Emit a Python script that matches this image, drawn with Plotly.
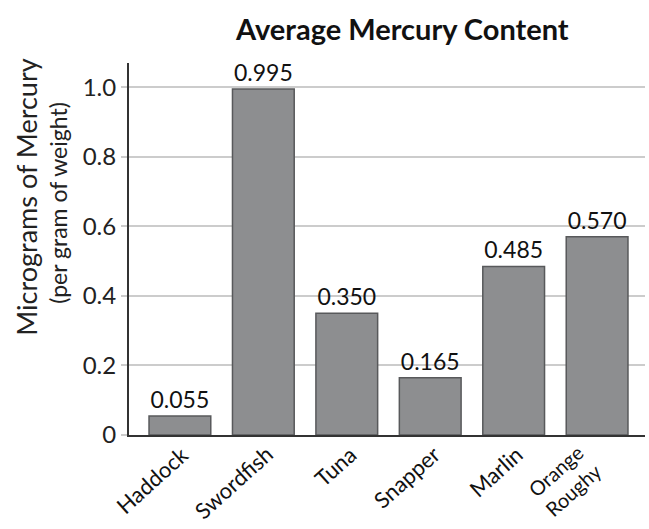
import plotly.graph_objects as go

fish = ["Haddock", "Swordfish", "Tuna", "Snapper", "Marlin", "Orange<br>Roughy"]
mercury = [0.055, 0.995, 0.350, 0.165, 0.485, 0.570]
value_labels = ["0.055", "0.995", "0.350", "0.165", "0.485", "0.570"]
y_ticks = [0, 0.2, 0.4, 0.6, 0.8, 1.0]
y_tick_labels = ["0", "0.2", "0.4", "0.6", "0.8", "1.0"]

FONT = "Lato"
xs = list(range(len(fish)))

fig = go.Figure(go.Bar(
    x=xs,
    y=mercury,
    text=value_labels,
    textposition="outside",
    textfont=dict(size=23, color="#111", family=FONT),
    cliponaxis=False,
    width=0.74,
    marker=dict(color="#8d8e90", line=dict(color="#58595b", width=1.5)),
))

# category labels, rotated, anchored by their top-right corner below each bar
for xi, name in zip(xs, fish):
    two_line = "<br>" in name
    fig.add_annotation(
        x=xi, y=0, xref="x", yref="y", text=name, showarrow=False,
        textangle=-42, xanchor="right", yanchor="top",
        xshift=12 if two_line else 17, yshift=-1 if two_line else -3,
        font=dict(size=20 if two_line else 22, color="#111", family=FONT),
    )

# y-axis title (two lines)
fig.add_annotation(
    x=-0.198, y=0.64, xref="paper", yref="paper",
    text="Micrograms of Mercury", showarrow=False, textangle=-90,
    xanchor="center", yanchor="middle",
    font=dict(size=27, color="#222", family=FONT),
)
fig.add_annotation(
    x=-0.139, y=0.625, xref="paper", yref="paper",
    text="(per gram of weight)", showarrow=False, textangle=-90,
    xanchor="center", yanchor="middle",
    font=dict(size=23, color="#222", family=FONT),
)

fig.update_layout(
    width=649, height=529,
    margin=dict(l=129, r=4, t=63, b=94),
    paper_bgcolor="white", plot_bgcolor="white",
    showlegend=False,
    title=dict(text="<b>Average Mercury Content</b>", x=0.62, xanchor="center", y=0.943, yanchor="middle",
               font=dict(size=29, family=FONT, color="#111")),
    font=dict(family=FONT, color="#222"),
)
fig.update_xaxes(
    tickmode="array", tickvals=xs, showticklabels=False,
    range=[-0.61, 5.574], showgrid=False, automargin=False,
    showline=True, linecolor="#333", linewidth=2, ticks="",
)
fig.update_yaxes(
    tickmode="array", tickvals=y_ticks, ticktext=y_tick_labels,
    range=[0, 1.07], tickfont=dict(size=24, color="#222", family=FONT),
    showgrid=True, gridcolor="#cccccc", gridwidth=2, automargin=False,
    showline=True, linecolor="#333", linewidth=2,
    ticks="outside", ticklen=6, tickcolor="#cccccc", tickwidth=2,
    zeroline=False,
)

fig.write_html("out.html", config={"displayModeBar": False},
               post_script="document.body.style.margin='0';")
